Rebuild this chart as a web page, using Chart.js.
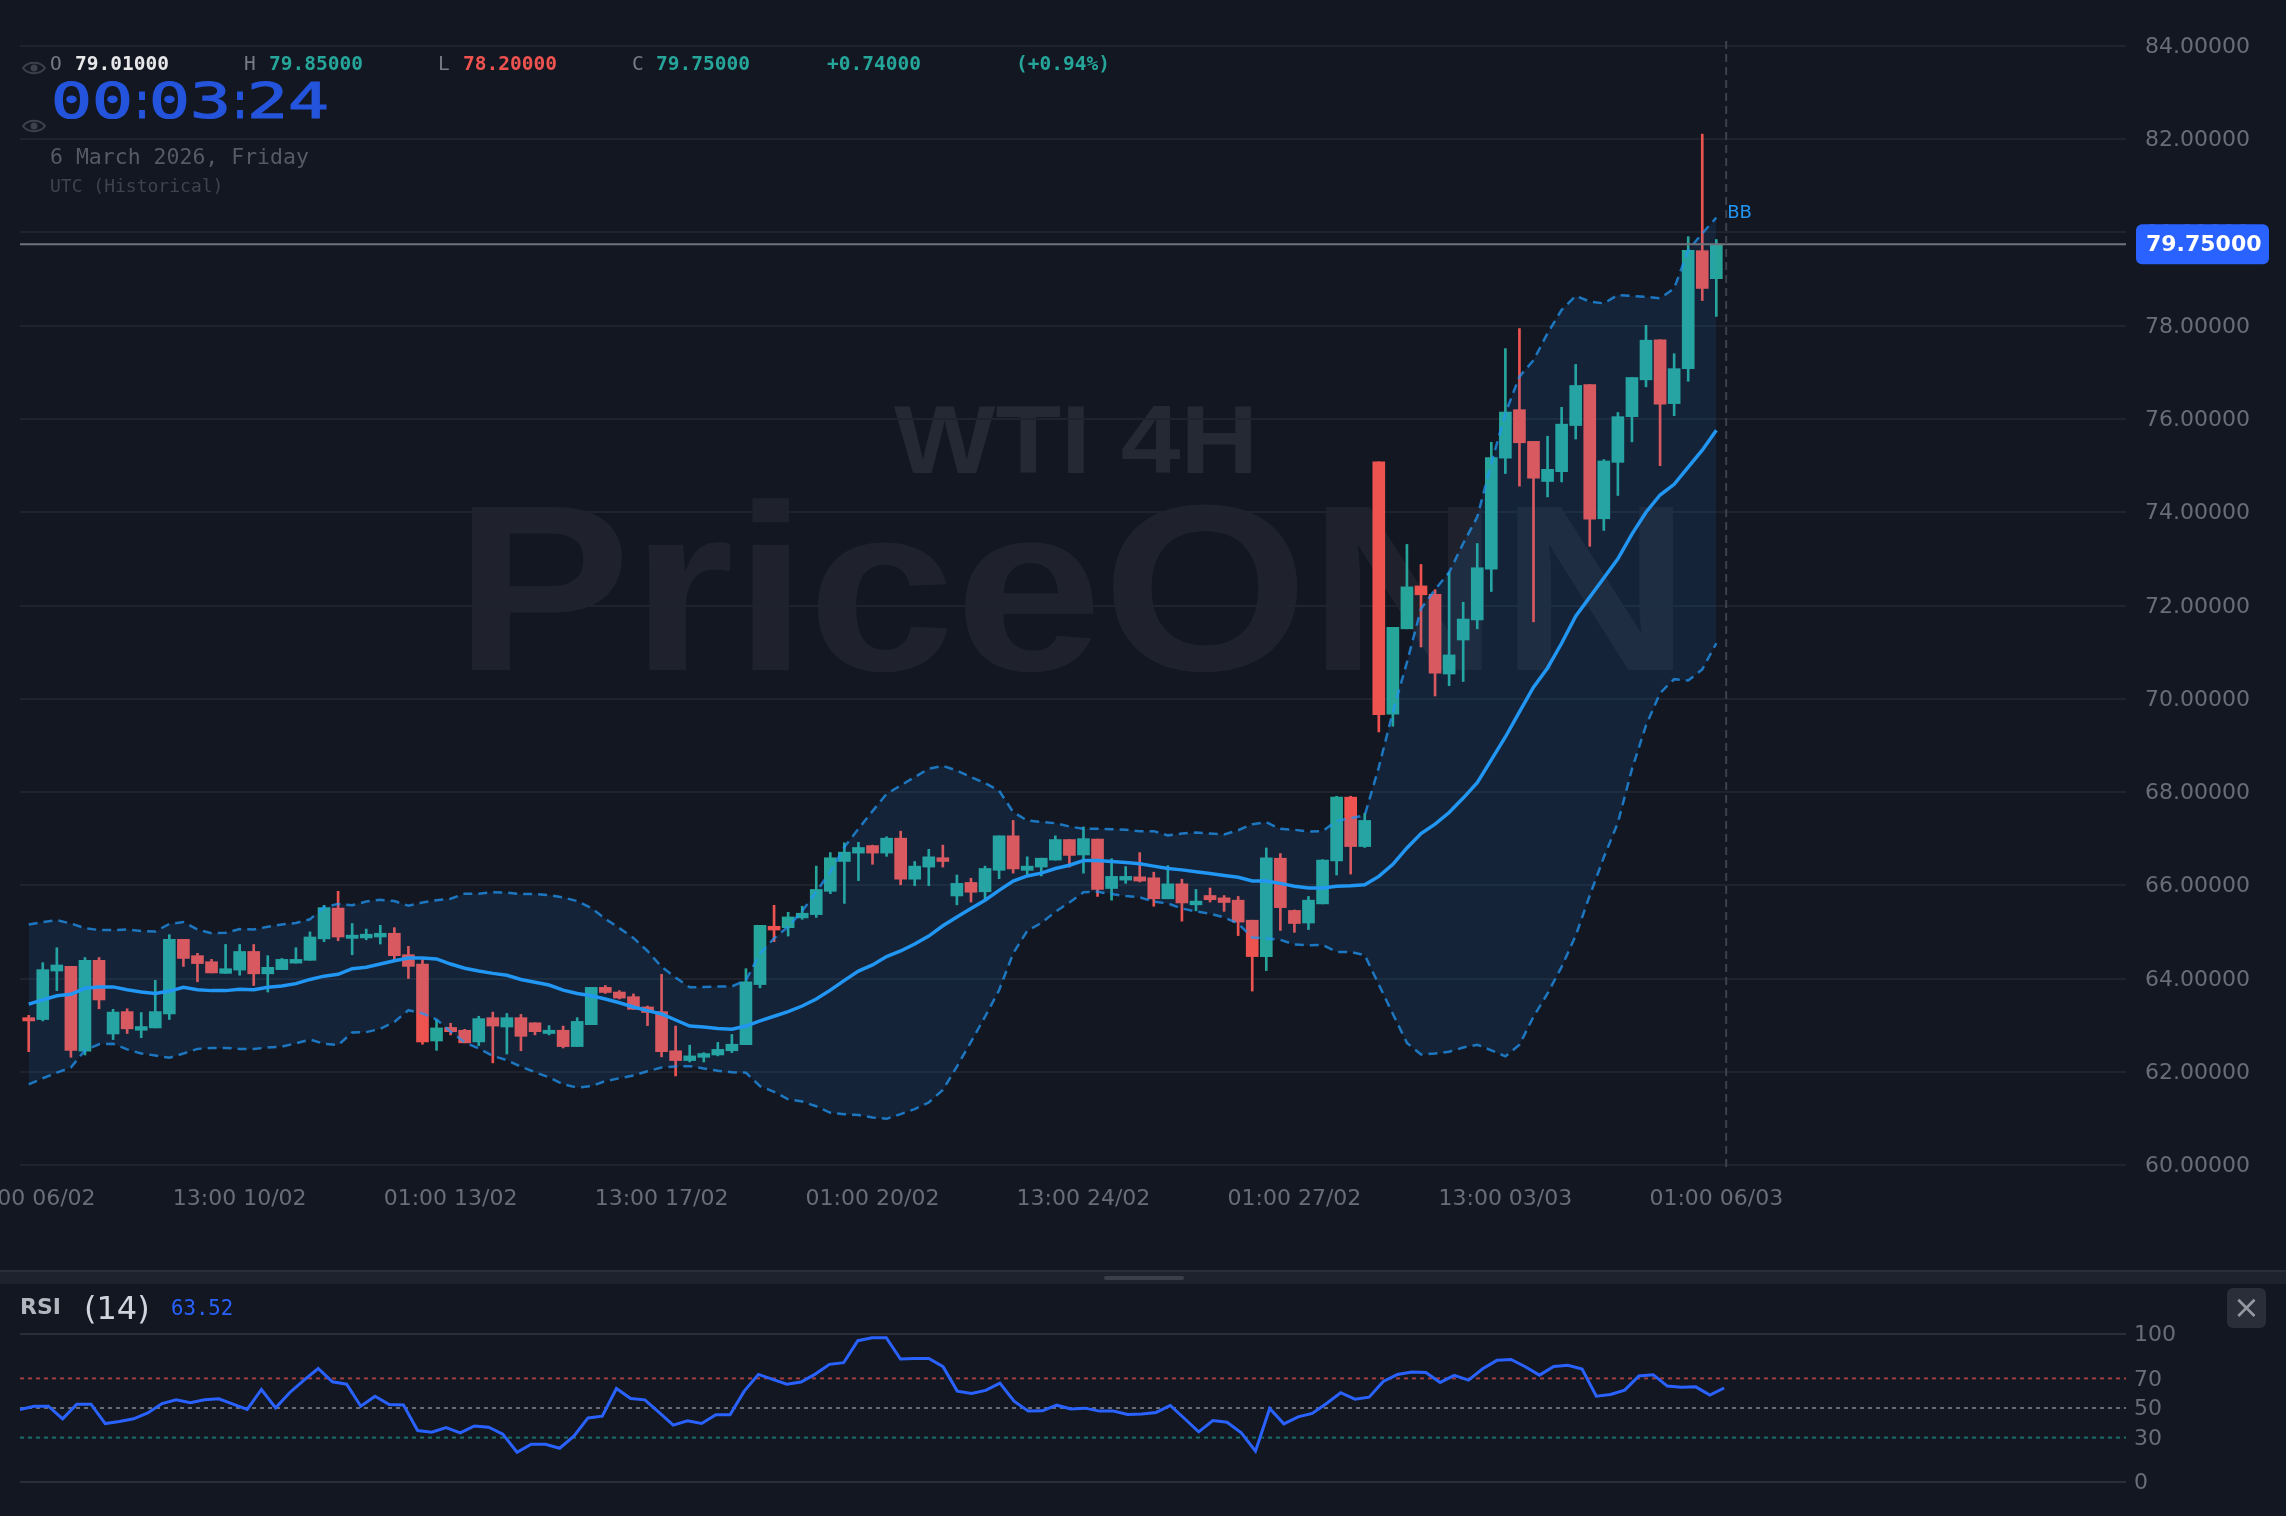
<!DOCTYPE html>
<html>
<head>
<meta charset="utf-8">
<title>WTI 4H</title>
<script src="https://cdn.jsdelivr.net/npm/chart.js@4/dist/chart.umd.min.js"></script>
<style>
    html, body { margin: 0; padding: 0; background: #131722; overflow: hidden; }
    #page { position: relative; width: 2286px; height: 1516px; overflow: hidden; }
    canvas { position: absolute; left: 0; }
    .t { position: absolute; white-space: pre; line-height: 1; transform: translateY(-50%); font-family: "DejaVu Sans Mono", monospace; }
    .ohlc { font-size: 19.5px; top: 64px; }
    .dim { color: #787b86; }
    .white { color: #e8e8ea; font-weight: bold; }
    .up { color: #26a69a; font-weight: bold; }
    .down { color: #ef5350; font-weight: bold; }
    #timer { left: 51px; top: 101px; font-size: 50px; color: #2454dc; -webkit-text-stroke: 1.2px #2454dc; }
    #timer span { display: inline-block; transform-origin: left center; }
    #timer .digit { width: 41px; transform: scaleX(1.36); }
    #timer .sep { width: 18px; transform: scaleX(0.8); margin-left: -3px; margin-right: 1px; }
    #date { left: 50px; top: 157px; font-size: 21.5px; color: #565a64; }
    #zone { left: 50px; top: 186px; font-size: 18px; color: #3f434d; }
    .eye { position: absolute; left: 22px; width: 24px; height: 16px; }
    #divider { position: absolute; left: 0; top: 1270px; width: 2286px; height: 14px; background: #1e222d; border-top: 2px solid #2a2e39; box-sizing: border-box; }
    #handle { position: absolute; left: 1104px; top: 1276px; width: 80px; height: 4px; border-radius: 2px; background: #3a3e49; }
    #rsiName { left: 20px; top: 1307px; font-family: "DejaVu Sans", sans-serif; font-weight: bold; font-size: 22px; color: #b2b5be; }
    #rsiLen { left: 84px; top: 1308px; font-family: "DejaVu Sans", sans-serif; font-size: 32px; color: #d1d4dc; }
    #rsiVal { left: 171px; top: 1308px; font-size: 20.7px; color: #2962ff; }
    #closeBtn { position: absolute; left: 2227px; top: 1288px; width: 39px; height: 40px; border-radius: 6px; background: #2a2e39; color: #9598a1; font: 32px/38px "DejaVu Sans", sans-serif; text-align: center; }
</style>
</head>
<body>
<div id="page">
    <canvas id="price-chart" width="2286" height="1270" style="top:0"></canvas>
    <canvas id="rsi-chart" width="2286" height="232" style="top:1284px"></canvas>

    <svg class="eye" style="top:60px" viewBox="0 0 24 16"><path d="M1 8 C6 1 18 1 23 8 C18 15 6 15 1 8Z" fill="none" stroke="#3d414b" stroke-width="2"/><circle cx="12" cy="8" r="3.5" fill="#3d414b"/></svg>
    <svg class="eye" style="top:118px" viewBox="0 0 24 16"><path d="M1 8 C6 1 18 1 23 8 C18 15 6 15 1 8Z" fill="none" stroke="#3d414b" stroke-width="2"/><circle cx="12" cy="8" r="3.5" fill="#3d414b"/></svg>

    <span class="t ohlc dim" style="left:50px">O</span><span class="t ohlc white" style="left:75px">79.01000</span>
    <span class="t ohlc dim" style="left:244px">H</span><span class="t ohlc up" style="left:269px">79.85000</span>
    <span class="t ohlc dim" style="left:438px">L</span><span class="t ohlc down" style="left:463px">78.20000</span>
    <span class="t ohlc dim" style="left:632px">C</span><span class="t ohlc up" style="left:656px">79.75000</span>
    <span class="t ohlc up" style="left:827px">+0.74000</span>
    <span class="t ohlc up" style="left:1016px">(+0.94%)</span>
    <span class="t" id="timer"><span class="digit">0</span><span class="digit">0</span><span class="sep">:</span><span class="digit">0</span><span class="digit">3</span><span class="sep">:</span><span class="digit">2</span><span class="digit">4</span></span>
    <span class="t" id="date">6 March 2026, Friday</span>
    <span class="t" id="zone">UTC (Historical)</span>

    <div id="divider"></div>
    <div id="handle"></div>
    <span class="t" id="rsiName">RSI</span>
    <span class="t" id="rsiLen">(14)</span>
    <span class="t" id="rsiVal">63.52</span>
    <div id="closeBtn">×</div>
</div>

<script>
// --- 1. DATA ---
const timeLabels = ['01:00 06/02', '13:00 10/02', '01:00 13/02', '13:00 17/02', '01:00 20/02', '13:00 24/02', '01:00 27/02', '13:00 03/03', '01:00 06/03'];
const timeStep = 15; // one label every 15 candles
const priceTicks = [60, 62, 64, 66, 68, 70, 72, 74, 76, 78, 80, 82, 84];
const rsiTicks = [0, 30, 50, 70, 100];
const rsiLevels = [70, 50, 30];

const opens = [63.16, 63.12, 64.16, 64.26, 62.44, 64.39, 62.81, 63.29, 62.89, 62.94, 63.24, 64.84, 64.49, 64.36, 64.11, 64.18, 64.58, 64.10, 64.19, 64.33,
    64.39, 64.85, 65.51, 64.86, 64.87, 64.89, 64.97, 64.51, 64.31, 62.66, 62.95, 62.89, 62.64, 63.16, 62.96, 63.16, 63.05, 62.82, 62.89, 62.54,
    63.01, 63.81, 63.71, 63.61, 63.39, 63.29, 62.45, 62.24, 62.31, 62.36, 62.45, 62.58, 63.87, 65.12, 65.09, 65.30, 65.37, 65.87, 66.51, 66.69,
    66.85, 66.69, 67.01, 66.13, 66.39, 66.59, 65.77, 66.06, 65.86, 66.32, 67.06, 66.32, 66.39, 66.54, 66.98, 66.65, 66.99, 65.93, 66.11, 66.18,
    66.16, 65.71, 66.03, 65.58, 65.78, 65.73, 65.68, 65.25, 64.47, 66.58, 65.46, 65.19, 65.60, 66.52, 67.89, 66.83, 75.08, 69.67, 71.50, 72.42,
    72.24, 70.53, 71.26, 71.69, 72.78, 75.16, 76.20, 75.52, 74.66, 74.87, 75.86, 76.74, 73.86, 75.07, 76.05, 76.84, 77.70, 76.33, 77.08, 79.61, 79.01];
const highs = [63.21, 64.34, 64.66, 64.26, 64.45, 64.45, 63.34, 63.35, 63.27, 63.96, 64.94, 64.84, 64.54, 64.41, 64.73, 64.73, 64.73, 64.49, 64.43, 64.66,
    65.00, 65.57, 65.87, 65.18, 65.06, 65.14, 65.09, 64.69, 64.41, 63.11, 63.04, 62.91, 63.19, 63.28, 63.25, 63.23, 63.05, 62.99, 62.98, 63.16,
    63.81, 63.85, 63.74, 63.67, 63.41, 64.09, 62.98, 62.57, 62.41, 62.63, 62.80, 64.21, 65.14, 65.57, 65.42, 65.55, 66.41, 66.70, 66.91, 66.92,
    66.86, 67.04, 67.16, 66.51, 66.77, 66.86, 66.22, 66.15, 66.41, 67.06, 67.39, 66.61, 66.58, 67.06, 66.98, 67.25, 66.99, 66.57, 66.40, 66.70,
    66.28, 66.42, 66.13, 65.91, 65.94, 65.78, 65.76, 65.25, 66.80, 66.68, 65.47, 65.76, 66.55, 67.91, 67.91, 67.54, 75.08, 71.53, 73.31, 72.88,
    72.34, 72.71, 72.07, 73.33, 75.50, 77.51, 77.94, 75.52, 75.63, 76.25, 77.17, 76.74, 75.13, 76.14, 76.89, 78.01, 77.70, 77.40, 79.91, 82.11, 79.85];
const lows = [62.43, 63.09, 63.74, 62.31, 62.36, 63.35, 62.69, 62.82, 62.73, 62.94, 63.12, 64.26, 63.93, 64.12, 64.11, 64.07, 63.85, 63.71, 64.19, 64.33,
    64.39, 64.79, 64.81, 64.51, 64.83, 64.74, 64.41, 64.00, 62.59, 62.46, 62.79, 62.62, 62.56, 62.19, 62.38, 62.45, 62.79, 62.79, 62.51, 62.54,
    63.01, 63.68, 63.56, 63.34, 62.99, 62.32, 61.91, 62.21, 62.21, 62.34, 62.41, 62.58, 63.80, 64.79, 64.91, 65.27, 65.31, 65.82, 65.61, 66.10,
    66.45, 66.62, 66.01, 65.99, 65.99, 66.39, 65.58, 65.64, 65.68, 66.14, 66.26, 66.22, 66.20, 66.54, 66.39, 66.26, 65.76, 65.68, 66.04, 66.07,
    65.55, 65.71, 65.23, 65.45, 65.64, 65.44, 64.92, 63.73, 64.17, 65.03, 64.99, 65.05, 65.60, 66.22, 66.24, 66.81, 69.29, 69.41, 71.50, 71.11,
    70.06, 70.28, 70.37, 71.50, 72.30, 74.83, 74.56, 71.65, 74.33, 74.65, 75.57, 73.27, 73.61, 74.36, 75.51, 76.69, 75.00, 76.07, 76.81, 78.54, 78.20];
const closes = [63.09, 64.19, 64.29, 62.46, 64.39, 63.54, 63.28, 62.92, 62.97, 63.29, 64.84, 64.43, 64.32, 64.12, 64.21, 64.58, 64.10, 64.24, 64.41, 64.41,
    64.89, 65.52, 64.89, 64.93, 64.95, 64.97, 64.49, 64.26, 62.64, 62.94, 62.86, 62.62, 63.14, 62.98, 63.16, 62.76, 62.86, 62.89, 62.54, 63.08,
    63.81, 63.70, 63.58, 63.34, 63.27, 62.43, 62.24, 62.34, 62.39, 62.48, 62.59, 63.93, 65.14, 65.04, 65.32, 65.40, 65.91, 66.59, 66.71, 66.81,
    66.69, 67.01, 66.13, 66.41, 66.61, 66.51, 66.04, 65.85, 66.36, 67.06, 66.35, 66.41, 66.58, 66.98, 66.64, 67.00, 65.91, 66.19, 66.19, 66.09,
    65.71, 66.03, 65.62, 65.66, 65.69, 65.63, 65.21, 64.47, 66.59, 65.52, 65.18, 65.68, 66.54, 67.89, 66.83, 67.39, 69.66, 71.53, 72.40, 72.23,
    70.55, 70.94, 71.71, 72.81, 75.17, 76.15, 75.49, 74.73, 74.92, 75.89, 76.72, 73.85, 75.10, 76.05, 76.89, 77.69, 76.32, 77.08, 79.62, 78.80, 79.75];

const bbMiddle = [63.45, 63.54, 63.63, 63.66, 63.79, 63.82, 63.82, 63.76, 63.71, 63.68, 63.73, 63.81, 63.76, 63.74, 63.74, 63.77, 63.76, 63.81, 63.84, 63.89,
    63.98, 64.05, 64.09, 64.21, 64.24, 64.31, 64.38, 64.44, 64.44, 64.42, 64.31, 64.22, 64.16, 64.11, 64.07, 63.98, 63.92, 63.86, 63.75, 63.68,
    63.63, 63.56, 63.48, 63.39, 63.31, 63.24, 63.11, 62.98, 62.96, 62.93, 62.91, 62.98, 63.09, 63.19, 63.29, 63.41, 63.56, 63.75, 63.96, 64.16,
    64.29, 64.47, 64.59, 64.74, 64.91, 65.13, 65.32, 65.50, 65.68, 65.89, 66.09, 66.20, 66.26, 66.36, 66.43, 66.53, 66.53, 66.51, 66.49, 66.46,
    66.41, 66.36, 66.33, 66.29, 66.25, 66.21, 66.17, 66.09, 66.09, 66.04, 65.98, 65.94, 65.94, 65.98, 65.99, 66.01, 66.19, 66.45, 66.80, 67.11,
    67.31, 67.56, 67.87, 68.20, 68.69, 69.18, 69.72, 70.25, 70.66, 71.19, 71.77, 72.18, 72.59, 73.00, 73.53, 74.00, 74.37, 74.60, 74.97, 75.33, 75.76];
const bbUpper = [65.16, 65.21, 65.25, 65.18, 65.08, 65.04, 65.04, 65.05, 65.02, 65.01, 65.17, 65.21, 65.05, 64.97, 64.98, 65.06, 65.05, 65.11, 65.16, 65.19,
    65.27, 65.53, 65.60, 65.57, 65.65, 65.69, 65.66, 65.56, 65.63, 65.68, 65.71, 65.82, 65.82, 65.85, 65.84, 65.81, 65.81, 65.79, 65.74, 65.66,
    65.51, 65.28, 65.08, 64.87, 64.59, 64.25, 64.02, 63.81, 63.82, 63.83, 63.83, 63.96, 64.54, 64.86, 65.11, 65.45, 65.86, 66.29, 66.82, 67.21,
    67.59, 67.96, 68.14, 68.32, 68.50, 68.56, 68.46, 68.32, 68.19, 68.03, 67.57, 67.39, 67.36, 67.33, 67.26, 67.21, 67.21, 67.20, 67.19, 67.16,
    67.16, 67.07, 67.11, 67.13, 67.11, 67.09, 67.18, 67.31, 67.35, 67.21, 67.19, 67.15, 67.16, 67.38, 67.44, 67.50, 68.53, 69.72, 70.78, 71.93,
    72.34, 72.71, 73.33, 73.90, 75.05, 76.12, 76.91, 77.26, 77.84, 78.34, 78.64, 78.52, 78.48, 78.66, 78.64, 78.62, 78.59, 78.80, 79.62, 79.98, 80.32];
const bbLower = [61.73, 61.86, 61.98, 62.09, 62.46, 62.59, 62.60, 62.48, 62.39, 62.35, 62.30, 62.39, 62.49, 62.51, 62.51, 62.49, 62.49, 62.52, 62.54, 62.61,
    62.69, 62.60, 62.57, 62.84, 62.85, 62.92, 63.07, 63.32, 63.25, 63.12, 62.86, 62.63, 62.50, 62.34, 62.25, 62.11, 61.99, 61.88, 61.73, 61.66,
    61.69, 61.80, 61.86, 61.92, 62.01, 62.09, 62.11, 62.12, 62.07, 62.02, 61.99, 61.98, 61.69, 61.57, 61.41, 61.36, 61.26, 61.12, 61.09, 61.07,
    61.02, 60.99, 61.09, 61.20, 61.34, 61.61, 62.11, 62.64, 63.18, 63.75, 64.54, 65.02, 65.19, 65.43, 65.63, 65.85, 65.86, 65.81, 65.77, 65.74,
    65.65, 65.61, 65.50, 65.44, 65.39, 65.31, 65.18, 64.88, 64.86, 64.83, 64.73, 64.71, 64.72, 64.57, 64.57, 64.50, 63.87, 63.24, 62.62, 62.37,
    62.39, 62.43, 62.52, 62.58, 62.46, 62.33, 62.58, 63.18, 63.68, 64.25, 64.92, 65.78, 66.60, 67.34, 68.49, 69.43, 70.12, 70.42, 70.39, 70.63, 71.19];

const rsiValues = [49, 51.2, 51.2, 42.7, 52.6, 52.6, 39.5, 40.9, 42.7, 46.7, 53, 55.5, 53.5, 55.5, 56.2, 52.6, 49, 62.5, 50.1, 60.5,
    68.8, 76.7, 67.7, 66.1, 51.2, 58, 52.4, 52.1, 34.8, 33.6, 36.8, 33.2, 37.9, 37, 32.3, 20.1, 25.5, 25.5, 22.8, 30.9,
    43.3, 44.5, 63.2, 56.4, 55.5, 47, 38.4, 41.3, 39.5, 45.4, 45.4, 61.4, 72.7, 69.3, 66.1, 67.5, 72.9, 79.5, 80.6, 95.5,
    97.5, 97.5, 83.1, 83.5, 83.5, 77.9, 61.4, 59.8, 61.9, 66.8, 54.6, 47.9, 48.1, 51.9, 49.4, 49.9, 47.9, 47.9, 45.6, 46,
    47, 51.7, 42.9, 33.9, 41.5, 40.4, 33.2, 20.8, 49.7, 39.3, 44, 46.3, 53, 60.3, 56, 57.3, 67.9, 72.7, 74.3, 74,
    67.3, 72, 68.8, 76.5, 82.2, 82.8, 77.9, 72.2, 78.1, 78.8, 76.3, 58, 59.1, 62.1, 71.6, 72.5, 64.8, 64.1, 64.3, 58.7, 63.52];

// --- 2. COLOURS & HELPERS ---
const UP = '#26a69a';
const DOWN = '#ef5350';
const BB_BLUE = '#2196f3';
const TICK_COLOR = '#6a6d78';
const toPoints = (values) => values.map((v, i) => ({ x: i, y: v }));
const candleColor = (i) => (closes[i] >= opens[i] ? UP : DOWN);
const lastClose = closes[closes.length - 1];
const cursorIndex = 120.7;

Chart.defaults.font.family = '"DejaVu Sans", sans-serif';
Chart.defaults.font.size = 22;
Chart.defaults.animation = false;

// Fixed pane sizes, the axis labels are allowed to run past the plot edges
function fixXAxis(scale) {
    scale.height = 105;
    scale.paddingLeft = 0;
    scale.paddingRight = 0;
}
function fixYAxis(scale) {
    scale.width = 160;
    scale.paddingTop = 0;
    scale.paddingBottom = 0;
}

// --- 3. PLUGINS ---
// Stretches a text sideways until its ink spans the given width
function drawFitted(ctx, text, font, color, x, baseline, width) {
    ctx.font = font;
    ctx.fillStyle = color;
    ctx.textAlign = 'left';
    ctx.textBaseline = 'alphabetic';
    const m = ctx.measureText(text);
    const k = width / (m.actualBoundingBoxLeft + m.actualBoundingBoxRight);
    ctx.save();
    ctx.translate(x + m.actualBoundingBoxLeft * k, baseline);
    ctx.scale(k, 1);
    ctx.fillText(text, 0, 0);
    ctx.restore();
}

const watermark = {
    id: 'watermark',
    beforeDraw(chart) {
        const ctx = chart.ctx;
        ctx.save();
        drawFitted(ctx, 'WTI 4H', 'bold 96px "Liberation Sans"', 'rgba(255,255,255,0.08)', 894, 473, 357);
        drawFitted(ctx, 'PriceONN', 'bold 237px "Liberation Sans"', 'rgba(255,255,255,0.05)', 471, 670, 1203);
        ctx.restore();
    }
};

const priceOverlay = {
    id: 'priceOverlay',
    afterDatasetsDraw(chart) {
        const { ctx, chartArea, scales } = chart;
        const y = scales.y.getPixelForValue(lastClose);
        ctx.save();
        // last price line
        ctx.strokeStyle = '#70737c';
        ctx.lineWidth = 2;
        ctx.beginPath();
        ctx.moveTo(chartArea.left, y);
        ctx.lineTo(chartArea.right, y);
        ctx.stroke();
        // cursor line
        const cx = scales.x.getPixelForValue(cursorIndex);
        ctx.strokeStyle = '#3d414c';
        ctx.setLineDash([8, 5]);
        ctx.beginPath();
        ctx.moveTo(cx, chartArea.top - 5);
        ctx.lineTo(cx, chartArea.bottom + 2);
        ctx.stroke();
        ctx.setLineDash([]);
        // band label next to the last value of the upper line
        ctx.fillStyle = BB_BLUE;
        ctx.font = '18px "DejaVu Sans"';
        ctx.textAlign = 'left';
        ctx.textBaseline = 'middle';
        ctx.fillText('BB', cx + 1, scales.y.getPixelForValue(bbUpper[bbUpper.length - 1]) - 4);
        ctx.restore();
    },
    afterDraw(chart) {
        const { ctx, scales } = chart;
        const y = scales.y.getPixelForValue(lastClose);
        ctx.save();
        ctx.fillStyle = '#2962ff';
        ctx.beginPath();
        ctx.roundRect(2136, y - 20, 133, 40, 6);
        ctx.fill();
        ctx.fillStyle = '#ffffff';
        ctx.font = 'bold 22px "DejaVu Sans"';
        ctx.textAlign = 'left';
        ctx.textBaseline = 'middle';
        ctx.fillText(lastClose.toFixed(5), 2146, y + 1);
        ctx.restore();
    }
};

// --- 4. PRICE CHART ---
new Chart(document.getElementById('price-chart'), {
    type: 'bar',
    data: {
        datasets: [
            {
                label: 'Wicks',
                data: highs.map((h, i) => ({ x: i, y: [lows[i], h] })),
                backgroundColor: highs.map((h, i) => candleColor(i)),
                grouped: false,
                barPercentage: 1,
                categoryPercentage: 1,
                maxBarThickness: 2,
                order: 5
            },
            {
                label: 'Candles',
                data: opens.map((o, i) => ({ x: i, y: [o, closes[i]] })),
                backgroundColor: opens.map((o, i) => candleColor(i)),
                grouped: false,
                barPercentage: 1,
                categoryPercentage: 1,
                maxBarThickness: 12,
                order: 4
            },
            {
                type: 'line',
                label: 'BB upper',
                data: toPoints(bbUpper),
                borderColor: 'rgba(33,150,243,0.75)',
                borderWidth: 2.5,
                borderDash: [9, 6],
                pointRadius: 0,
                fill: '+1',
                backgroundColor: 'rgba(33,150,243,0.1)',
                order: 3
            },
            {
                type: 'line',
                label: 'BB lower',
                data: toPoints(bbLower),
                borderColor: 'rgba(33,150,243,0.75)',
                borderWidth: 2.5,
                borderDash: [9, 6],
                pointRadius: 0,
                fill: false,
                order: 2
            },
            {
                type: 'line',
                label: 'BB middle',
                data: toPoints(bbMiddle),
                borderColor: BB_BLUE,
                borderWidth: 3.5,
                pointRadius: 0,
                fill: false,
                order: 1
            }
        ]
    },
    options: {
        responsive: false,
        events: [],
        layout: { padding: { left: 20, top: 46, right: 0, bottom: 0 } },
        plugins: { legend: { display: false }, tooltip: { enabled: false } },
        scales: {
            x: {
                type: 'linear',
                offset: false,
                min: -0.619,
                max: 149.13,
                border: { display: false },
                grid: { display: false, drawTicks: false, offset: false },
                afterBuildTicks: (scale) => { scale.ticks = timeLabels.map((l, i) => ({ value: i * timeStep })); },
                afterFit: fixXAxis,
                ticks: {
                    color: TICK_COLOR,
                    padding: 21,
                    autoSkip: false,
                    maxRotation: 0,
                    minRotation: 0,
                    callback: (v) => timeLabels[v / timeStep]
                }
            },
            y: {
                position: 'right',
                min: 60,
                max: 84,
                border: { display: false },
                grid: { color: '#1f232e', lineWidth: 2, drawTicks: false },
                afterBuildTicks: (scale) => { scale.ticks = priceTicks.map((v) => ({ value: v })); },
                afterFit: fixYAxis,
                ticks: {
                    color: TICK_COLOR,
                    padding: 19,
                    labelOffset: 1.5,
                    callback: (v) => v.toFixed(5)
                }
            }
        }
    },
    plugins: [watermark, priceOverlay]
});

// --- 5. RSI CHART ---
const RSI_X_MAX = 148.3;
const levelColors = ['rgba(239,83,80,0.65)', 'rgba(120,123,134,0.85)', 'rgba(38,166,154,0.6)'];

new Chart(document.getElementById('rsi-chart'), {
    type: 'line',
    data: {
        datasets: [
            ...rsiLevels.map((level, i) => ({
                label: 'Level ' + level,
                data: [{ x: 0, y: level }, { x: RSI_X_MAX, y: level }],
                borderColor: levelColors[i],
                borderWidth: 2,
                borderDash: [4, 4],
                pointRadius: 0,
                order: 2
            })),
            {
                label: 'RSI',
                data: toPoints(rsiValues),
                borderColor: '#2962ff',
                borderWidth: 3,
                pointRadius: 0,
                order: 1
            }
        ]
    },
    options: {
        responsive: false,
        events: [],
        layout: { padding: { left: 20, top: 50, right: 0, bottom: 34 } },
        plugins: { legend: { display: false }, tooltip: { enabled: false } },
        scales: {
            x: { type: 'linear', display: false, min: 0, max: RSI_X_MAX },
            y: {
                position: 'right',
                min: 0,
                max: 100,
                border: { display: false },
                grid: {
                    color: (ctx) => (ctx.tick && (ctx.tick.value === 0 || ctx.tick.value === 100) ? '#2a2e39' : 'transparent'),
                    lineWidth: 2,
                    drawTicks: false
                },
                afterBuildTicks: (scale) => { scale.ticks = rsiTicks.map((v) => ({ value: v })); },
                afterFit: fixYAxis,
                ticks: { color: TICK_COLOR, padding: 8, labelOffset: 1.5, callback: (v) => String(v) }
            }
        }
    }
});
</script>
</body>
</html>
